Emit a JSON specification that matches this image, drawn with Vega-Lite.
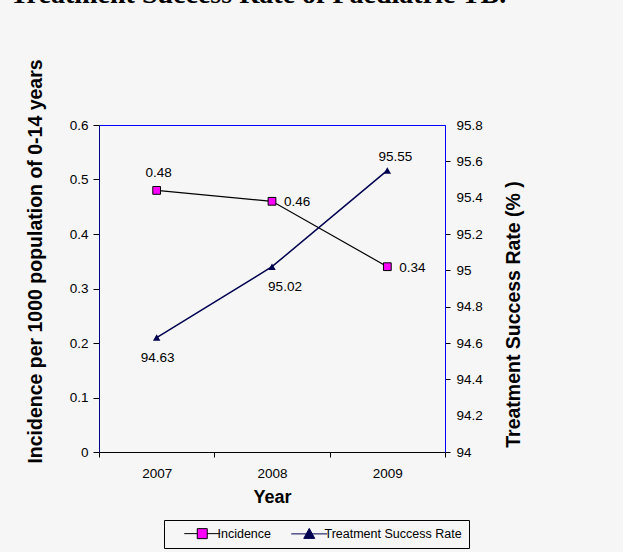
{
  "$schema": "https://vega.github.io/schema/vega-lite/v6.json",
  "autosize": {"type": "none"},
  "width": 346,
  "height": 327,
  "padding": {"left": 99, "top": 125, "right": 178, "bottom": 100},
  "background": "#f6f6f6",
  "title": {
    "text": "Treatment Success Rate of Paediatric TB.",
    "anchor": "start",
    "frame": "group",
    "orient": "top",
    "font": "Liberation Serif",
    "fontSize": 28,
    "fontWeight": "bold",
    "color": "#000000",
    "baseline": "alphabetic",
    "offset": 28,
    "dx": -89
  },
  "config": {
    "view": {"stroke": "#0000ff", "strokeWidth": 1},
    "font": "Liberation Sans",
    "axis": {
      "labelFont": "Liberation Sans",
      "labelFontSize": 13.5,
      "labelColor": "#000000",
      "titleFont": "Liberation Sans",
      "titleColor": "#000000",
      "titleFontWeight": "bold",
      "tickColor": "#000000",
      "grid": false
    },
    "legend": {
      "labelFont": "Liberation Sans",
      "labelFontSize": 12.5,
      "labelColor": "#000000"
    }
  },
  "datasets": {
    "tb": [
      {"year": "2007", "incidence": 0.48, "tsr": 94.63},
      {"year": "2008", "incidence": 0.46, "tsr": 95.02},
      {"year": "2009", "incidence": 0.34, "tsr": 95.55}
    ],
    "series": [
      {"series": "Incidence"},
      {"series": "Treatment Success Rate"}
    ]
  },
  "data": {"name": "tb"},
  "encoding": {
    "x": {
      "field": "year",
      "type": "ordinal",
      "bandPosition": 0.5,
      "scale": {"type": "band", "paddingInner": 0, "paddingOuter": 0},
      "axis": {
        "title": "Year",
        "titleFontSize": 18,
        "titlePadding": 9,
        "labelAngle": 0,
        "labelPadding": 9,
        "tickBand": "extent",
        "tickSize": 5,
        "domainColor": "#000000"
      }
    }
  },
  "layer": [
    {
      "encoding": {
        "y": {
          "field": "incidence",
          "type": "quantitative",
          "scale": {"domain": [0, 0.6], "nice": false, "zero": true},
          "axis": {
            "orient": "left",
            "title": "Incidence per 1000 population of 0-14 years",
            "titleFontSize": 19.5,
            "titlePadding": 24,
            "titleY": 136,
            "values": [0, 0.1, 0.2, 0.3, 0.4, 0.5, 0.6],
            "format": "~g",
            "tickSize": 6,
            "labelPadding": 5,
            "domainColor": "#000080"
          }
        }
      },
      "layer": [
        {
          "mark": {"type": "line", "color": "#000000", "strokeWidth": 1.2}
        },
        {
          "mark": {"type": "point", "shape": "square", "size": 60, "filled": true, "fill": "#ff00ff", "stroke": "#000000", "strokeWidth": 1, "opacity": 1}
        },
        {
          "transform": [{"filter": "datum.year === '2007'"}],
          "mark": {"type": "text", "fontSize": 13.5, "color": "#000000", "dy": -17, "dx": 2},
          "encoding": {"text": {"field": "incidence", "type": "quantitative", "format": ".2f"}}
        },
        {
          "transform": [{"filter": "datum.year !== '2007'"}],
          "mark": {"type": "text", "fontSize": 13.5, "color": "#000000", "align": "left", "dx": 12, "dy": 1},
          "encoding": {"text": {"field": "incidence", "type": "quantitative", "format": ".2f"}}
        },
        {
          "data": {"name": "series"},
          "mark": {"type": "point", "filled": true, "size": 64, "opacity": 0, "strokeWidth": 1},
          "encoding": {
            "x": {"value": 0},
            "y": {"value": 0},
            "shape": {
              "field": "series",
              "type": "nominal",
              "scale": {
                "domain": ["Incidence", "Treatment Success Rate"],
                "range": [
                  "M-3.6,0H-1M1,0H3.6M-1,-1H1V1H-1Z",
                  "M-3.6,0H3.6M-1.1,0.9L0,-1.1L1.1,0.9Z"
                ]
              },
              "legend": {
                "title": null,
                "orient": "none",
                "legendX": 65,
                "legendY": 395,
                "direction": "horizontal",
                "strokeColor": "#000000",
                "padding": 7,
                "symbolOffset": 25,
                "labelOffset": 9,
                "columnPadding": 6,
                "symbolStrokeWidth": 1,
                "symbolOpacity": 1
              }
            },
            "fill": {
              "field": "series",
              "type": "nominal",
              "scale": {"domain": ["Incidence", "Treatment Success Rate"], "range": ["#ff00ff", "#000050"]}
            },
            "stroke": {
              "field": "series",
              "type": "nominal",
              "scale": {"domain": ["Incidence", "Treatment Success Rate"], "range": ["#000000", "#000050"]}
            }
          }
        }
      ]
    },
    {
      "encoding": {
        "y": {
          "field": "tsr",
          "type": "quantitative",
          "scale": {"domain": [94, 95.8], "nice": false, "zero": false},
          "axis": {
            "orient": "right",
            "title": "Treatment  Success  Rate (% )",
            "titleFontSize": 19.5,
            "titleAngle": -90,
            "titlePadding": 41,
            "titleY": 189,
            "values": [94, 94.2, 94.4, 94.6, 94.8, 95, 95.2, 95.4, 95.6, 95.8],
            "format": "~g",
            "tickSize": 5,
            "labelPadding": 6,
            "domainColor": "#0000ff",
            "tickOpacity": {
              "condition": {"test": "abs(datum.value - 95.8) < 0.01 || abs(datum.value - 95.4) < 0.01 || abs(datum.value - 94.2) < 0.01", "value": 0},
              "value": 1
            }
          }
        }
      },
      "layer": [
        {
          "mark": {"type": "line", "color": "#000050", "strokeWidth": 1.5}
        },
        {
          "mark": {"type": "point", "shape": "triangle-up", "size": 55, "filled": true, "color": "#000050", "opacity": 1}
        },
        {
          "transform": [{"filter": "datum.year === '2009'"}],
          "mark": {"type": "text", "fontSize": 13.5, "color": "#000000", "dy": -13, "dx": 8},
          "encoding": {"text": {"field": "tsr", "type": "quantitative", "format": ".2f"}}
        },
        {
          "transform": [{"filter": "datum.year === '2008'"}],
          "mark": {"type": "text", "fontSize": 13.5, "color": "#000000", "dy": 20, "dx": 13},
          "encoding": {"text": {"field": "tsr", "type": "quantitative", "format": ".2f"}}
        },
        {
          "transform": [{"filter": "datum.year === '2007'"}],
          "mark": {"type": "text", "fontSize": 13.5, "color": "#000000", "dy": 20, "dx": 1},
          "encoding": {"text": {"field": "tsr", "type": "quantitative", "format": ".2f"}}
        }
      ]
    }
  ],
  "resolve": {"scale": {"y": "independent"}, "axis": {"y": "independent"}}
}
